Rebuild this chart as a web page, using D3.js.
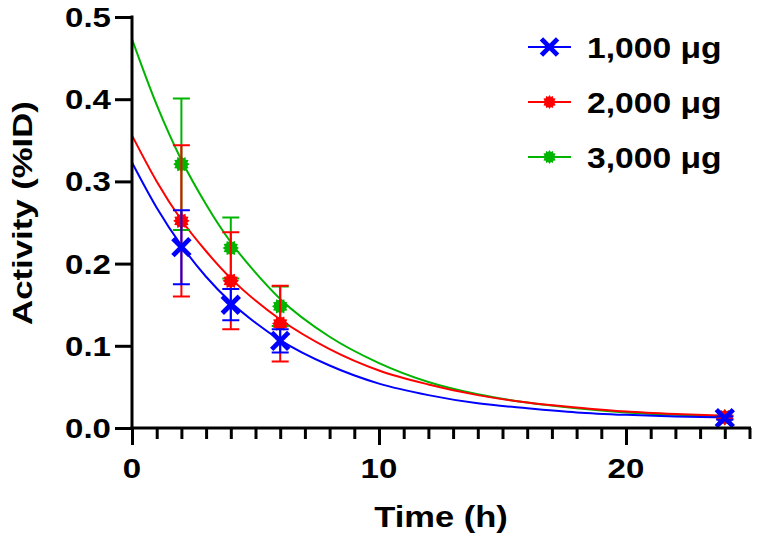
<!DOCTYPE html>
<html>
<head>
<meta charset="utf-8">
<script src="https://cdn.jsdelivr.net/npm/d3@7"></script>
<style>
  html, body { margin: 0; padding: 0; background: #fff; }
  svg { display: block; }
  text { font-family: "Liberation Sans", Arial, sans-serif; font-weight: bold; fill: #000; }
</style>
</head>
<body>
<svg id="chart" width="760" height="550"></svg>
<script>
// ---- Data ----
const seriesNames = ["1,000 μg", "2,000 μg", "3,000 μg"];
const seriesColors = ["#0000ff", "#ff0000", "#00b400"];
const times = [2, 4, 6, 24];
const mean1000 = [0.220, 0.150, 0.106, 0.012];
const err1000  = [0.045, 0.019, 0.014, 0.002];
const mean2000 = [0.252, 0.179, 0.127, 0.013];
const err2000  = [0.092, 0.059, 0.046, 0.002];
const mean3000 = [0.321, 0.219, 0.148, 0.013];
const err3000  = [0.080, 0.037, 0.024, 0.002];
// fitted decay curves
const curveTimes = [0, 1, 2, 3, 4, 5, 6, 8, 10, 12, 14, 16, 18, 20, 22, 24];
const curve1000 = [0.323, 0.268, 0.222, 0.184, 0.153, 0.128, 0.107, 0.076, 0.054, 0.040, 0.030, 0.024, 0.019, 0.016, 0.014, 0.013];
const curve2000 = [0.356, 0.300, 0.253, 0.215, 0.182, 0.155, 0.132, 0.096, 0.070, 0.053, 0.040, 0.031, 0.025, 0.020, 0.017, 0.015];
const curve3000 = [0.473, 0.393, 0.326, 0.272, 0.226, 0.189, 0.157, 0.111, 0.079, 0.056, 0.041, 0.031, 0.024, 0.019, 0.016, 0.014];
const xTickValues = [0, 10, 20];
const yTickValues = [0.0, 0.1, 0.2, 0.3, 0.4, 0.5];
const xTitle = "Time (h)";
const yTitle = "Activity (%ID)";

const series = [
  { name: seriesNames[0], color: seriesColors[0], mean: mean1000, err: err1000, curve: curve1000, marker: "x" },
  { name: seriesNames[1], color: seriesColors[1], mean: mean2000, err: err2000, curve: curve2000, marker: "star" },
  { name: seriesNames[2], color: seriesColors[2], mean: mean3000, err: err3000, curve: curve3000, marker: "star" }
];

// ---- Layout ----
const svg = d3.select("#chart");
const x = d3.scaleLinear().domain([0, 25]).range([132, 749.5]);
const y = d3.scaleLinear().domain([0, 0.5]).range([428, 17]);

// stretch text horizontally to match the reference's wide lettering
function stretch(sel, k) {
  sel.each(function () {
    const w = this.getComputedTextLength();
    d3.select(this).attr("textLength", w * k).attr("lengthAdjust", "spacingAndGlyphs");
  });
}

const line = d3.line().x(d => x(d[0])).y(d => y(d[1])).curve(d3.curveMonotoneX);
const drawOrder = [2, 1, 0];

const markerStarPath = (() => {
  const pts = [];
  const n = 12;
  for (let i = 0; i < n * 2; i++) {
    const a = Math.PI * i / n;
    const r = i % 2 === 0 ? 8.2 : 6.2;
    pts.push([a, r]);
  }
  return d3.lineRadial().curve(d3.curveLinearClosed)(pts);
})();

function drawMarker(g, type, color, cx, cy, scale = 1) {
  if (type === "x") {
    const s = 8.5 * scale;
    g.append("path")
      .attr("d", `M${cx - s},${cy - s}L${cx + s},${cy + s}M${cx - s},${cy + s}L${cx + s},${cy - s}`)
      .attr("stroke", color).attr("stroke-width", 4.8).attr("fill", "none");
  } else {
    g.append("path")
      .attr("d", markerStarPath)
      .attr("transform", `translate(${cx},${cy}) scale(${scale})`)
      .attr("fill", color);
  }
}

const plot = svg.append("g");
drawOrder.forEach(i => {
  const s = series[i];
  plot.append("path")
    .datum(curveTimes.map((t, k) => [t, s.curve[k]]))
    .attr("d", line)
    .attr("fill", "none")
    .attr("stroke", s.color)
    .attr("stroke-width", 2);
});

// error bars and markers
drawOrder.forEach(i => {
  const s = series[i];
  const g = plot.append("g");
  times.forEach((t, k) => {
    const cx = x(t);
    const top = y(s.mean[k] + s.err[k]);
    const bot = y(s.mean[k] - s.err[k]);
    const cw = 8.5;
    g.append("path")
      .attr("d", `M${cx},${top}L${cx},${bot}M${cx - cw},${top}L${cx + cw},${top}M${cx - cw},${bot}L${cx + cw},${bot}`)
      .attr("stroke", s.color).attr("stroke-width", 2).attr("fill", "none");
  });
  times.forEach((t, k) => {
    drawMarker(g, s.marker, s.color, x(t), y(s.mean[k]));
  });
});

// ---- Axes ----
const xAxis = svg.append("g").attr("transform", `translate(0,428)`)
  .call(d3.axisBottom(x).tickValues(d3.range(0, 26, 1)).tickSize(10).tickFormat(""));
xAxis.select(".domain").remove();
xAxis.selectAll(".tick line").attr("stroke", "#000").attr("stroke-width", 3)
  .attr("y2", d => xTickValues.includes(d) ? 17 : 11);
svg.append("line").attr("x1", x(0) - 1.5).attr("x2", x(25) + 1.5).attr("y1", 428).attr("y2", 428)
  .attr("stroke", "#000").attr("stroke-width", 3);
svg.append("g").selectAll("text").data(xTickValues).join("text")
  .attr("x", d => x(d)).attr("y", 478)
  .attr("text-anchor", "middle").attr("font-size", 28)
  .text(d => d3.format("d")(d))
  .call(stretch, 1.18);

const yAxis = svg.append("g").attr("transform", `translate(132,0)`)
  .call(d3.axisLeft(y).tickValues(yTickValues).tickSize(17).tickFormat(""));
yAxis.select(".domain").remove();
yAxis.selectAll(".tick line").attr("stroke", "#000").attr("stroke-width", 3);
svg.append("line").attr("x1", 132).attr("x2", 132).attr("y1", y(0.5) - 1.5).attr("y2", 429.5)
  .attr("stroke", "#000").attr("stroke-width", 3);
svg.append("g").selectAll("text").data(yTickValues).join("text")
  .attr("x", 111).attr("y", d => y(d) + 10)
  .attr("text-anchor", "end").attr("font-size", 28)
  .text(d => d3.format(".1f")(d))
  .call(stretch, 1.18);

// axis titles
svg.append("text").attr("x", 441).attr("y", 527).attr("text-anchor", "middle")
  .attr("font-size", 30).text(xTitle)
  .call(stretch, 1.15);
svg.append("text").attr("transform", `translate(32,213) rotate(-90)`)
  .attr("text-anchor", "middle").attr("font-size", 28).text(yTitle)
  .call(stretch, 1.24);

// ---- Legend ----
const legendY = [47, 102, 157];
const legend = svg.append("g");
series.forEach((s, i) => {
  const ly = legendY[i];
  legend.append("line").attr("x1", 528).attr("x2", 571).attr("y1", ly).attr("y2", ly)
    .attr("stroke", s.color).attr("stroke-width", 2);
  drawMarker(legend, s.marker, s.color, 549.5, ly, s.marker === "x" ? 0.95 : 0.85);
  legend.append("text").attr("x", 587).attr("y", ly + 11)
    .attr("font-size", 30).text(s.name)
    .call(stretch, 1.12);
});
</script>
</body>
</html>
